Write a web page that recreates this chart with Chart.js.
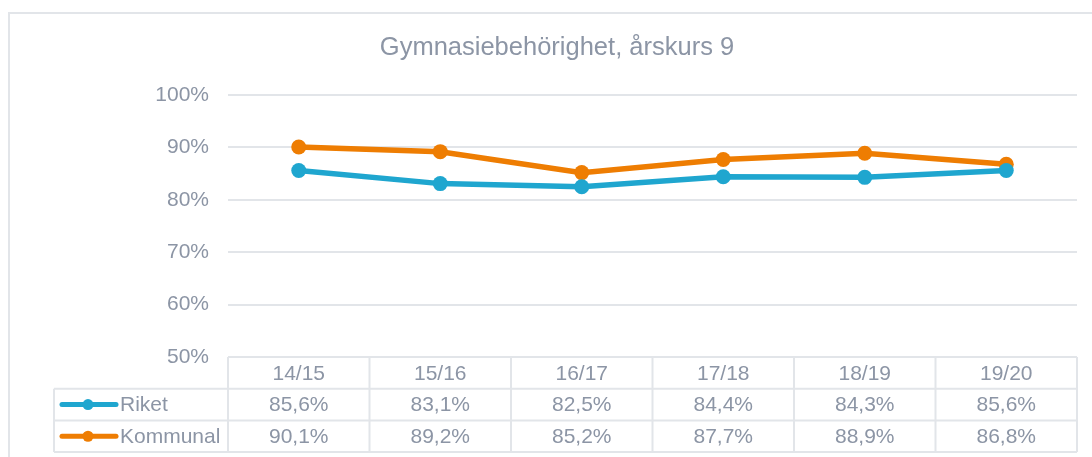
<!DOCTYPE html>
<html>
<head>
<meta charset="utf-8">
<script src="https://cdn.jsdelivr.net/npm/chart.js@4"></script>
<style>
    body { margin: 0; background: #ffffff; }
    canvas { display: block; }
</style>
</head>
<body>
<canvas id="grafico" width="1092" height="457"></canvas>
<script>
const labels = ["14/15", "15/16", "16/17", "17/18", "18/19", "19/20"];
const riket = [85.6, 83.1, 82.5, 84.4, 84.3, 85.6];
const kommunal = [90.1, 89.2, 85.2, 87.7, 88.9, 86.8];
const seriesNames = ["Riket", "Kommunal"];

const blue = "#1fa6cf";
const orange = "#ee7d02";
const textGray = "#8c95a5";
const lineGray = "#e2e5e9";
const fontFamily = "'Liberation Sans', Arial, sans-serif";

// formato 85,6%
function fmt(v) {
    return v.toFixed(1).replace(".", ",") + "%";
}

// moldura em volta do gráfico
const framePlugin = {
    id: "frame",
    beforeDraw(chart) {
        const ctx = chart.ctx;
        ctx.save();
        ctx.strokeStyle = lineGray;
        ctx.lineWidth = 2;
        ctx.beginPath();
        ctx.moveTo(9, chart.height);
        ctx.lineTo(9, 13);
        ctx.lineTo(chart.width, 13);
        ctx.stroke();
        ctx.restore();
    },
};

// tabela de dados abaixo do eixo x
const tablePlugin = {
    id: "dataTable",
    afterDraw(chart) {
        const ctx = chart.ctx;
        const area = chart.chartArea;
        const x = chart.scales.x;
        const colW = (area.right - area.left) / labels.length;
        const rowH = 31.7;
        const y0 = area.bottom;
        const legendLeft = area.left - 174;
        const rows = [riket, kommunal];
        const colors = [blue, orange];

        ctx.save();
        ctx.strokeStyle = lineGray;
        ctx.lineWidth = 2;
        ctx.beginPath();
        for (let r = 1; r <= 3; r++) {
            ctx.moveTo(legendLeft, y0 + r * rowH);
            ctx.lineTo(area.right, y0 + r * rowH);
        }
        ctx.moveTo(legendLeft, y0 + rowH);
        ctx.lineTo(legendLeft, y0 + 3 * rowH);
        for (let i = 0; i <= labels.length; i++) {
            const bx = area.left + i * colW;
            ctx.moveTo(bx, y0);
            ctx.lineTo(bx, y0 + 3 * rowH);
        }
        ctx.stroke();

        ctx.font = "21px " + fontFamily;
        ctx.fillStyle = textGray;
        ctx.textAlign = "center";
        ctx.textBaseline = "middle";
        labels.forEach((lab, i) => {
            const cx = x.getPixelForValue(i);
            ctx.fillText(lab, cx, y0 + rowH * 0.5 + 1);
            rows.forEach((row, r) => {
                ctx.fillText(fmt(row[i]), cx, y0 + rowH * (r + 1.5) + 1);
            });
        });

        rows.forEach((row, r) => {
            const cy = y0 + rowH * (r + 1.5);
            ctx.strokeStyle = colors[r];
            ctx.lineWidth = 5;
            ctx.lineCap = "round";
            ctx.beginPath();
            ctx.moveTo(legendLeft + 8, cy);
            ctx.lineTo(legendLeft + 62, cy);
            ctx.stroke();
            ctx.fillStyle = colors[r];
            ctx.beginPath();
            ctx.arc(legendLeft + 34, cy, 5.5, 0, Math.PI * 2);
            ctx.fill();
            ctx.fillStyle = textGray;
            ctx.textAlign = "left";
            ctx.fillText(seriesNames[r], legendLeft + 66, cy + 1);
        });
        ctx.restore();
    },
};

const options = {
    responsive: false,
    animation: false,
    devicePixelRatio: 1,
    layout: {
        padding: { left: 37, right: 15, top: 0, bottom: 100 },
    },
    scales: {
        x: {
            display: false,
            offset: true,
        },
        y: {
            min: 50,
            max: 100,
            afterFit(scale) {
                scale.width = 191;
            },
            border: { display: false },
            grid: {
                color: lineGray,
                lineWidth: 2,
                drawTicks: false,
            },
            ticks: {
                stepSize: 10,
                padding: 19,
                color: textGray,
                font: { size: 21, family: fontFamily },
                callback: (v) => v + "%",
            },
        },
    },
    plugins: {
        legend: { display: false },
        tooltip: { enabled: false },
        title: {
            display: true,
            text: "Gymnasiebehörighet, årskurs 9",
            color: textGray,
            font: { size: 25.5, family: fontFamily, weight: "normal" },
            padding: { top: 33, bottom: 31.5 },
        },
    },
};

new Chart(document.getElementById("grafico"), {
    type: "line",
    data: {
        labels: labels,
        datasets: [
            {
                label: seriesNames[0],
                data: riket,
                borderColor: blue,
                backgroundColor: blue,
                borderWidth: 5.5,
                pointRadius: 7.5,
                pointBorderWidth: 0,
                tension: 0,
            },
            {
                label: seriesNames[1],
                data: kommunal,
                borderColor: orange,
                backgroundColor: orange,
                borderWidth: 5.5,
                pointRadius: 7.5,
                pointBorderWidth: 0,
                tension: 0,
            },
        ],
    },
    options: options,
    plugins: [framePlugin, tablePlugin],
});
</script>
</body>
</html>
